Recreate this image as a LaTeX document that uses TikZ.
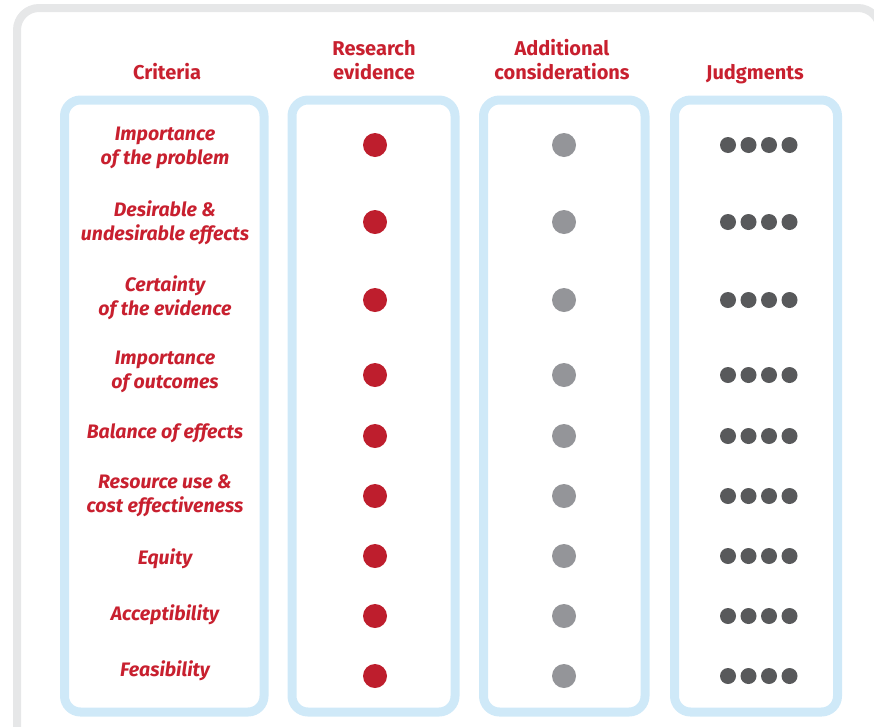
\documentclass[tikz,border=0pt]{standalone}
\usepackage{fontspec}
\setmainfont{Fira Sans}
\definecolor{critred}{HTML}{C8202F}
\definecolor{dotred}{HTML}{BE1E2D}
\definecolor{dotgray}{HTML}{949599}
\definecolor{dotdark}{HTML}{58595B}
\definecolor{boxblue}{HTML}{CFE9F8}
\definecolor{framegray}{HTML}{E6E7E8}
\begin{document}
\begin{tikzpicture}[x = 1pt, y = -1pt,
        colbox/.style = {draw = boxblue, line width = 9pt, rounded corners = 16pt},
        head/.style = {text = critred, font = \bfseries\fontsize{20}{24}\selectfont, align = center},
        crit/.style = {text = critred, font = \bfseries\itshape\fontsize{19.5}{24}\selectfont, align = center},
        evdot/.style = {circle, fill = dotred, minimum size = 24pt, inner sep = 0pt},
        addot/.style = {circle, fill = dotgray, minimum size = 24pt, inner sep = 0pt},
        jdot/.style = {circle, fill = dotdark, minimum size = 16pt, inner sep = 0pt}]
        \useasboundingbox (0, 0) rectangle (874, 726);
        \draw [framegray, line width = 8pt, rounded corners = 22pt] (17, 8) rectangle (880, 780);
        % columns
        \draw [colbox] (64.5, 100) rectangle (264, 712);
        \draw [colbox] (292, 100) rectangle (455, 712);
        \draw [colbox] (483.5, 100) rectangle (645, 712);
        \draw [colbox] (674.5, 100) rectangle (837.5, 712);
        % headings
        \node [head] (hcrit) at (167, 72) {Criteria};
        \node [head] (hev) at (374, 60) {Research\\evidence};
        \node [head] (had) at (562, 60) {Additional\\considerations};
        \node [head] (hjud) at (755, 74) {Judgments};
        % criteria
        \node [crit] (c1) at (165, 147.5) {Importance\\of the problem};
        \node [crit] (c2) at (165, 223) {Desirable \&\\undesirable effects};
        \node [crit] (c3) at (165, 298) {Certainty\\of the evidence};
        \node [crit] (c4) at (165, 372) {Importance\\of outcomes};
        \node [crit] (c5) at (165, 433) {Balance of effects};
        \node [crit] (c6) at (165, 496) {Resource use \&\\cost effectiveness};
        \node [crit] (c7) at (165, 559) {Equity};
        \node [crit] (c8) at (165, 615) {Acceptibility};
        \node [crit] (c9) at (165, 671) {Feasibility};
        % dots
        \foreach \y [count = \i] in {145, 222, 300, 375, 436, 496, 556, 616, 676} {
            \node [evdot] (ev\i) at (375, \y) {};
            \node [addot] (ad\i) at (564, \y) {};
            \foreach \k in {0, ..., 3}
                \node [jdot] (jd\i-\k) at (728 + 20.5*\k, \y) {};
        }
    \end{tikzpicture}
\end{document}
